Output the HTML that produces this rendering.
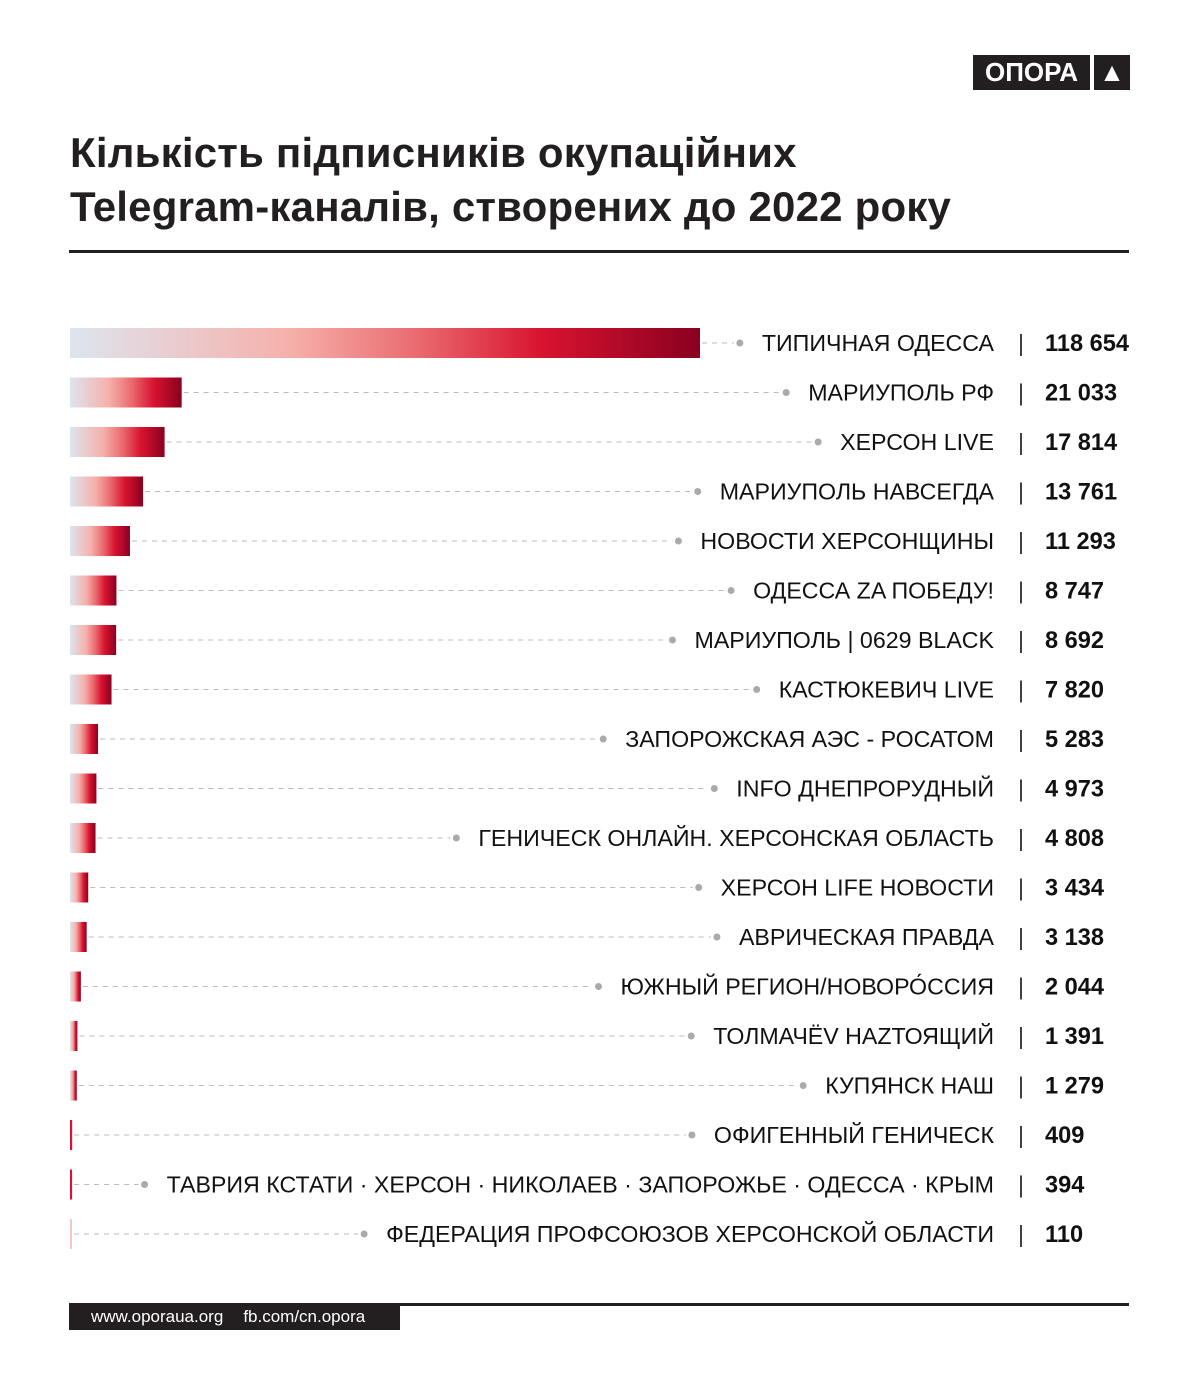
<!DOCTYPE html>
<html><head><meta charset="utf-8">
<style>
html,body{margin:0;padding:0;background:#fff;}
body{width:1200px;height:1390px;position:relative;font-family:"Liberation Sans",sans-serif;overflow:hidden;}
.logo{position:absolute;top:55px;left:973px;height:35px;display:flex;gap:4px;}
.logo div{background:#231f20;color:#fff;font-weight:bold;font-size:26px;line-height:35px;height:35px;text-align:center;}
h1{position:absolute;left:70px;top:126px;margin:0;font-size:42px;line-height:54px;font-weight:bold;color:#231f20;letter-spacing:0.2px;white-space:nowrap;}
.rule{position:absolute;left:69px;width:1060px;height:3px;background:#231f20;}
.foot{position:absolute;left:69px;top:1305px;width:331px;height:25px;background:#231f20;color:#fff;font-size:17px;line-height:24px;}
svg{position:absolute;left:0;top:0;}
</style></head><body>
<div class="logo"><div style="width:117px">ОПОРА</div><div style="width:36px">▲</div></div>
<h1>Кількість підписників окупаційних<br>Telegram-каналів, створених до 2022 року</h1>
<div class="rule" style="top:250px"></div>
<svg id="chart" width="1200" height="1390">
<defs><linearGradient id="g" x1="0" x2="1" y1="0" y2="0">
<stop offset="0" stop-color="#dde5ee"/><stop offset="0.35" stop-color="#f6b0ab"/><stop offset="0.55" stop-color="#ea6b70"/><stop offset="0.75" stop-color="#d81330"/><stop offset="1" stop-color="#8a0020"/>
</linearGradient></defs>
</svg>
<div class="rule" style="top:1303px;height:3px"></div>
<div class="foot"><span style="margin-left:22px">www.oporaua.org</span><span style="margin-left:20px">fb.com/cn.opora</span></div>
<script>
const channels=["ТИПИЧНАЯ ОДЕССА","МАРИУПОЛЬ РФ","ХЕРСОН LIVE","МАРИУПОЛЬ НАВСЕГДА","НОВОСТИ ХЕРСОНЩИНЫ","ОДЕССА ZA ПОБЕДУ!","МАРИУПОЛЬ | 0629 BLACK","КАСТЮКЕВИЧ LIVE","ЗАПОРОЖСКАЯ АЭС - РОСАТОМ","INFO ДНЕПРОРУДНЫЙ","ГЕНИЧЕСК ОНЛАЙН. ХЕРСОНСКАЯ ОБЛАСТЬ","ХЕРСОН LIFE НОВОСТИ","АВРИЧЕСКАЯ ПРАВДА","ЮЖНЫЙ РЕГИОН/НОВОРО́ССИЯ","ТОЛМАЧЁV НАZТОЯЩИЙ","КУПЯНСК НАШ","ОФИГЕННЫЙ ГЕНИЧЕСК","ТАВРИЯ КСТАТИ · ХЕРСОН · НИКОЛАЕВ · ЗАПОРОЖЬЕ · ОДЕССА · КРЫМ","ФЕДЕРАЦИЯ ПРОФСОЮЗОВ ХЕРСОНСКОЙ ОБЛАСТИ"];
const subscribers=[118654,21033,17814,13761,11293,8747,8692,7820,5283,4973,4808,3434,3138,2044,1391,1279,409,394,110];
const valueLabels=["118 654","21 033","17 814","13 761","11 293","8 747","8 692","7 820","5 283","4 973","4 808","3 434","3 138","2 044","1 391","1 279","409","394","110"];
const NS="http://www.w3.org/2000/svg";
const svg=document.getElementById('chart');
const x0=70,xMax=700,maxV=118654;
const xs=v=>(v/maxV)*(xMax-x0);
const yc=i=>343+i*49.5;
function mk(t,a){const e=document.createElementNS(NS,t);for(const k in a)e.setAttribute(k,a[k]);svg.appendChild(e);return e;}
channels.forEach((name,i)=>{
  const y=yc(i);
  const w=Math.max(xs(subscribers[i]),2);
  const lab=mk('text',{x:994,y:y+8,'text-anchor':'end','font-size':23.2,fill:'#111','font-family':'Liberation Sans, sans-serif'});
  lab.textContent=name;
  
  
  const lw=lab.getComputedTextLength();
  const dotX=994-lw-22;
  const ln=mk('line',{x1:x0+w+2,x2:dotX-6,y1:y,y2:y,stroke:'#bbb','stroke-width':1,'stroke-dasharray':'5 5'});
  
  
  const dt=mk('circle',{cx:dotX,cy:y,r:3.5,fill:'#aaa'});
  
  
  const fillCol=w<4?(subscribers[i]<200?'#f3c6c8':'#d81330'):'url(#g)';
  const r=mk('rect',{x:x0,y:y-15,width:w,height:30,fill:fillCol});
  
  
  const sep=mk('text',{x:1021,y:y+8,'text-anchor':'middle','font-size':23,fill:'#333'});
  sep.textContent='|';
  
  
  const v=mk('text',{x:1045,y:y+8,'font-size':23.6,'font-weight':'bold',fill:'#111'});
  v.textContent=valueLabels[i];
  
  
});
</script>
</body></html>
